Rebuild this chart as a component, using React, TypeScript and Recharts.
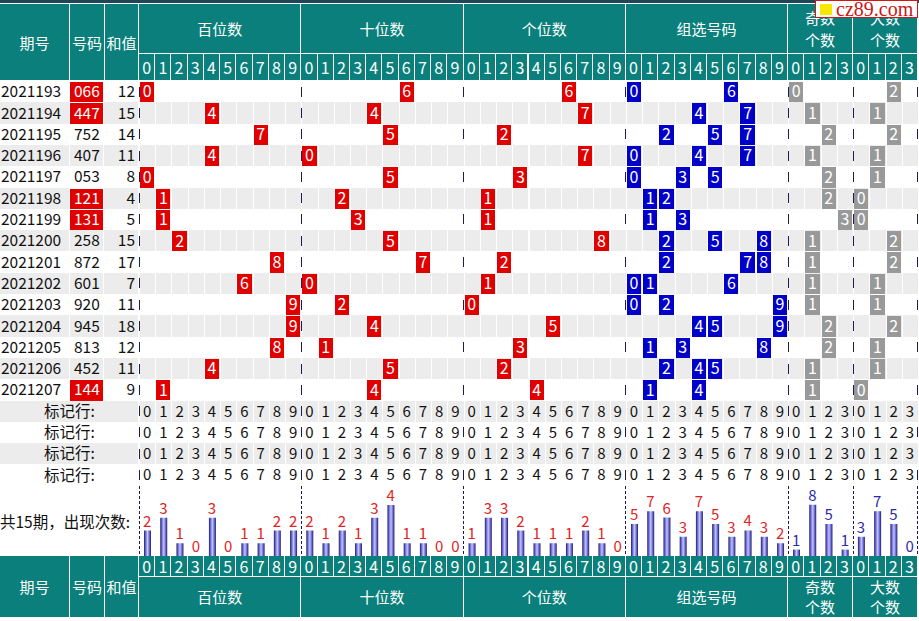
import React from "react";
import { ScatterChart, Scatter, XAxis, YAxis, ReferenceLine, ComposedChart, Bar } from "recharts";

// 期号、号码、和值
const issues = ["2021193", "2021194", "2021195", "2021196", "2021197", "2021198", "2021199", "2021200", "2021201", "2021202", "2021203", "2021204", "2021205", "2021206", "2021207"];
const numbers = ["066", "447", "752", "407", "053", "121", "131", "258", "872", "601", "920", "945", "813", "452", "144"];
const sums = [12, 15, 14, 11, 8, 4, 5, 15, 17, 7, 11, 18, 12, 11, 9];
// 号码栏标红的期（组三）
const redNumbers = [true, true, false, false, false, true, true, false, false, false, false, false, false, false, true];

// 各位走势
const hundreds = [0, 4, 7, 4, 0, 1, 1, 2, 8, 6, 9, 9, 8, 4, 1];
const tens = [6, 4, 5, 0, 5, 2, 3, 5, 7, 0, 2, 4, 1, 5, 4];
const units = [6, 7, 2, 7, 3, 1, 1, 8, 2, 1, 0, 5, 3, 2, 4];
const groupDigits = [[0, 6], [4, 7], [2, 5, 7], [0, 4, 7], [0, 3, 5], [1, 2], [1, 3], [2, 5, 8], [2, 7, 8], [0, 1, 6], [0, 2, 9], [4, 5, 9], [1, 3, 8], [2, 4, 5], [1, 4]];
const oddCounts = [0, 1, 2, 1, 2, 2, 3, 1, 1, 1, 1, 2, 2, 1, 1];
const bigCounts = [2, 1, 2, 1, 1, 0, 0, 2, 2, 1, 1, 2, 1, 1, 0];

// 出现次数
const hundredTotals = [2, 3, 1, 0, 3, 0, 1, 1, 2, 2];
const tenTotals = [2, 1, 2, 1, 3, 4, 1, 1, 0, 0];
const unitTotals = [1, 3, 3, 2, 1, 1, 1, 2, 1, 0];
const groupTotals = [5, 7, 6, 3, 7, 5, 3, 4, 3, 2];
const oddTotals = [1, 8, 5, 1];
const bigTotals = [3, 7, 5, 0];

const digitTicks = ["0", "1", "2", "3", "4", "5", "6", "7", "8", "9"];
const countTicks = ["0", "1", "2", "3"];
const leftHeads = ["期号", "号码", "和值"];
const sections = [
  { title: ["百位数"], ticks: digitTicks },
  { title: ["十位数"], ticks: digitTicks },
  { title: ["个位数"], ticks: digitTicks },
  { title: ["组选号码"], ticks: digitTicks },
  { title: ["奇数", "个数"], ticks: countTicks },
  { title: ["大数", "个数"], ticks: countTicks },
];
const markerLabel = "标记行:";
const markerRowCount = 4;
const summaryLabel = "共15期，出现次数:";

// layout
const W = 919;
const H = 621;
const GRID_X = 139;
const GRID_W = 779;
const GRID_TOP = 81;
const ROW_H = 21.3;
const BAR_H = 70;
const LEFT_UNIT = GRID_X / 4;
const TEAL = "#0a7f7b";
const RED = "#e10000";
const BLUE = "#0000c8";
const GRAY = "#999999";
const STRIPE = "#ececec";
const DASH = "#1c1c50";
const FONT = '"Noto Sans CJK SC", "Noto Sans", sans-serif';

const colTicks = sections.flatMap((s) => s.ticks);
const COLS = colTicks.length;
const COL_W = GRID_W / COLS;
const sectionStarts = sections.map((_, i) => sections.slice(0, i).reduce((a, s) => a + s.ticks.length, 0));
const boundaries = [...sectionStarts, COLS];

const ROWS = issues.length;
const TOTAL_ROWS = ROWS + markerRowCount;
const GRID_H = ROW_H * TOTAL_ROWS;
const BAR_TOP = GRID_TOP + GRID_H;
const Y_MAX = TOTAL_ROWS + BAR_H / ROW_H;

const rowCells = (vals: number[], offset: number) => vals.map((v, i) => ({ x: offset + v + 0.5, y: i + 0.5, label: String(v) }));
const redCells = [...rowCells(hundreds, 0), ...rowCells(tens, 10), ...rowCells(units, 20)];
const blueCells = groupDigits.flatMap((ds, i) => ds.map((d) => ({ x: 30 + d + 0.5, y: i + 0.5, label: String(d) })));
const grayCells = [...rowCells(oddCounts, 40), ...rowCells(bigCounts, 44)];

const stripeCells: { x: number; y: number }[] = [];
for (let r = 1; r < TOTAL_ROWS; r += 2) colTicks.forEach((_, c) => stripeCells.push({ x: c + 0.5, y: r + 0.5 }));
const markerCells: { x: number; y: number; label: string }[] = [];
for (let r = 0; r < markerRowCount; r++) colTicks.forEach((t, c) => markerCells.push({ x: c + 0.5, y: ROWS + r + 0.5, label: t }));

const issueCells = issues.map((t, i) => ({ x: 1, y: i + 0.5, label: t, row: i }));
const numberCells = numbers.map((t, i) => ({ x: 2.5, y: i + 0.5, label: t, row: i, hot: redNumbers[i] }));
const sumCells = sums.map((v, i) => ({ x: 3.5, y: i + 0.5, label: String(v), row: i }));
const markerLabels = Array.from({ length: markerRowCount }, (_, r) => ({ x: 2, y: ROWS + r + 0.5, label: markerLabel, row: ROWS + r }));

const toBars = (vals: number[], prefix: string) => vals.map((v, i) => ({ key: prefix + i, value: v }));
const posBars = [...toBars(hundredTotals, "h"), ...toBars(tenTotals, "t"), ...toBars(unitTotals, "u")];
const groupBars = toBars(groupTotals, "g");
const countBars = [...toBars(oddTotals, "o"), ...toBars(bigTotals, "b")];

const box = (cx: number, cy: number, w: number) => {
  const x0 = Math.round(cx - w / 2);
  const x1 = Math.round(cx + w / 2);
  const y0 = Math.round(cy - ROW_H / 2);
  const y1 = Math.round(cy + ROW_H / 2);
  return { x0, x1, y0, y1 };
};

// baseline for digits roughly centred on cy
const mid = (cy: number, size: number) => cy + size * 0.36;

const stripeShape = (p: any) => {
  const b = box(p.cx, p.cy, COL_W);
  return <rect x={b.x0 + 1} y={b.y0} width={b.x1 - b.x0 - 1} height={b.y1 - b.y0} fill={STRIPE} />;
};

const cellShape = (fill: string) => (p: any) => {
  const b = box(p.cx, p.cy, COL_W);
  return (
    <g>
      <rect x={b.x0 + 1} y={b.y0 + 1} width={b.x1 - b.x0 - 2} height={b.y1 - b.y0 - 1} fill={fill} />
      <text x={p.cx} y={mid(p.cy, 16)} textAnchor="middle" fill="#fff" fontSize={16} fontFamily={FONT}>
        {p.payload.label}
      </text>
    </g>
  );
};

const markerShape = (p: any) => (
  <text x={p.cx} y={mid(p.cy, 15)} textAnchor="middle" fill="#111" fontSize={15} fontFamily={FONT}>
    {p.payload.label}
  </text>
);

const leftShape = (span: number, align: "start" | "middle" | "end") => (p: any) => {
  const b = box(p.cx, p.cy, span * LEFT_UNIT);
  const hot = !!p.payload.hot;
  const bg = hot ? RED : p.payload.row % 2 === 1 ? STRIPE : null;
  const tx = align === "start" ? b.x0 + 1 : align === "end" ? b.x1 - 4 : p.cx;
  return (
    <g>
      {bg && <rect x={b.x0} y={hot ? b.y0 + 1 : b.y0} width={b.x1 - b.x0 - 1} height={hot ? b.y1 - b.y0 - 1 : b.y1 - b.y0} fill={bg} />}
      <text x={tx} y={mid(p.cy, 15.5)} textAnchor={align} fill={hot ? "#fff" : "#111"} fontSize={15.5} fontFamily={FONT}>
        {p.payload.label}
      </text>
    </g>
  );
};

const barLabel = (color: string) => (p: any) => (
  <text x={p.cx} y={p.cy - 4} textAnchor="middle" fill={color} fontSize={15} fontFamily={FONT}>
    {p.payload.value}
  </text>
);

function HeaderBand({ leftTop, leftH, titleTop, titleH, digitTop, digitH, lineH }: any) {
  const leftBoxes = [[0, 69], [70, 34], [105, 33]];
  const cell: React.CSSProperties = {
    position: "absolute",
    background: TEAL,
    color: "#fff",
    display: "flex",
    alignItems: "center",
    justifyContent: "center",
    textAlign: "center",
  };
  return (
    <>
      {leftHeads.map((t, i) => (
        <div key={t} style={{ ...cell, left: leftBoxes[i][0], width: leftBoxes[i][1], top: leftTop, height: leftH, fontSize: 15 }}>
          {t}
        </div>
      ))}
      {sections.map((s, i) => (
        <div
          key={"s" + i}
          style={{
            ...cell,
            left: GRID_X + sectionStarts[i] * COL_W,
            width: s.ticks.length * COL_W - 1,
            top: titleTop,
            height: titleH,
            fontSize: 15,
            flexDirection: "column",
            lineHeight: lineH + "px",
          }}
        >
          {s.title.map((l) => (
            <span key={l}>{l}</span>
          ))}
        </div>
      ))}
      {colTicks.map((t, c) => (
        <div key={"d" + c} style={{ ...cell, left: GRID_X + c * COL_W, width: COL_W - 1, top: digitTop, height: digitH, fontSize: 16 }}>
          {t}
        </div>
      ))}
    </>
  );
}

function CountBars({ data, left, unit, labelColor, id }: any) {
  return (
    <div style={{ position: "absolute", left: GRID_X + left * COL_W, top: BAR_TOP }}>
      <ComposedChart width={data.length * COL_W} height={BAR_H} data={data} margin={{ top: 0, right: 0, bottom: 0, left: 0 }}>
        <defs>
          <linearGradient id={id} x1="0" y1="0" x2="1" y2="0">
            <stop offset="0%" stopColor="#1e1e66" />
            <stop offset="30%" stopColor="#8080e8" />
            <stop offset="50%" stopColor="#c4c4ff" />
            <stop offset="70%" stopColor="#8080e8" />
            <stop offset="100%" stopColor="#1e1e66" />
          </linearGradient>
        </defs>
        <XAxis dataKey="key" hide />
        <YAxis type="number" domain={[0, BAR_H / unit]} allowDataOverflow hide />
        <Bar dataKey="value" barSize={7} fill={`url(#${id})`} isAnimationActive={false} />
        <Scatter dataKey="value" shape={barLabel(labelColor)} isAnimationActive={false} />
      </ComposedChart>
    </div>
  );
}

export default function App() {
  const m = { top: 0, right: 0, bottom: 0, left: 0 };
  return (
    <div style={{ position: "relative", width: W, height: H, overflow: "hidden", background: "#fff", fontFamily: FONT }}>
      <style>{"body{margin:0;overflow:hidden} .recharts-surface{overflow:visible}"}</style>

      <div style={{ position: "absolute", left: 0, top: 0, width: W, height: 3, background: "#1f4658" }} />
      <HeaderBand leftTop={4} leftH={76} titleTop={4} titleH={49} digitTop={54} digitH={26} lineH={22} />
      <HeaderBand leftTop={556} leftH={61} titleTop={577} titleH={40} digitTop={556} digitH={20} lineH={20} />

      <div style={{ position: "absolute", left: 0, top: GRID_TOP }}>
        <ScatterChart width={GRID_X} height={GRID_H} margin={m}>
          <XAxis type="number" dataKey="x" domain={[0, 4]} allowDataOverflow hide />
          <YAxis type="number" dataKey="y" domain={[0, TOTAL_ROWS]} allowDataOverflow reversed hide />
          <Scatter data={issueCells} shape={leftShape(2, "start")} isAnimationActive={false} />
          <Scatter data={numberCells} shape={leftShape(1, "middle")} isAnimationActive={false} />
          <Scatter data={sumCells} shape={leftShape(1, "end")} isAnimationActive={false} />
          <Scatter data={markerLabels} shape={leftShape(4, "middle")} isAnimationActive={false} />
        </ScatterChart>
      </div>

      <div style={{ position: "absolute", left: GRID_X, top: GRID_TOP }}>
        <ScatterChart width={GRID_W} height={GRID_H + BAR_H} margin={m}>
          <XAxis type="number" dataKey="x" domain={[0, COLS]} allowDataOverflow hide />
          <YAxis type="number" dataKey="y" domain={[0, Y_MAX]} allowDataOverflow reversed hide />
          <Scatter data={stripeCells} shape={stripeShape} isAnimationActive={false} />
          <Scatter data={redCells} shape={cellShape(RED)} isAnimationActive={false} />
          <Scatter data={blueCells} shape={cellShape(BLUE)} isAnimationActive={false} />
          <Scatter data={grayCells} shape={cellShape(GRAY)} isAnimationActive={false} />
          <Scatter data={markerCells} shape={markerShape} isAnimationActive={false} />
          {boundaries.map((b) => (
            <ReferenceLine
              key={"a" + b}
              segment={[{ x: b, y: 0 }, { x: b, y: TOTAL_ROWS }]}
              stroke={DASH}
              strokeDasharray={`10 ${ROW_H - 10}`}
              strokeDashoffset={10 + (ROW_H - 10) / 2}
              shapeRendering="crispEdges"
            />
          ))}
          {boundaries.map((b) => (
            <ReferenceLine
              key={"b" + b}
              segment={[{ x: b, y: TOTAL_ROWS }, { x: b, y: Y_MAX }]}
              stroke={DASH}
              strokeDasharray="3 2"
              shapeRendering="crispEdges"
            />
          ))}
        </ScatterChart>
      </div>

      <div style={{ position: "absolute", left: 0, top: BAR_TOP, height: BAR_H, display: "flex", alignItems: "center", fontSize: 15.5, color: "#111" }}>
        {summaryLabel}
      </div>
      <CountBars data={posBars} left={0} unit={12.75} labelColor="#e02424" id="gPos" />
      <CountBars data={groupBars} left={30} unit={6.4} labelColor="#e02424" id="gGroup" />
      <CountBars data={countBars} left={40} unit={6.4} labelColor="#2a2aa8" id="gCount" />

      <div style={{ position: "absolute", left: 815, top: 0, width: 101, height: 16, border: "1px solid #d01818", background: "#fff" }}>
        <div style={{ position: "absolute", left: 4, top: 3, width: 12, height: 11, background: "#f6e800" }} />
        <div style={{ position: "absolute", left: 20, top: -3, fontFamily: '"Liberation Serif", serif', fontSize: 20, color: "#c81818", lineHeight: "22px" }}>
          cz89.com
        </div>
      </div>
    </div>
  );
}
